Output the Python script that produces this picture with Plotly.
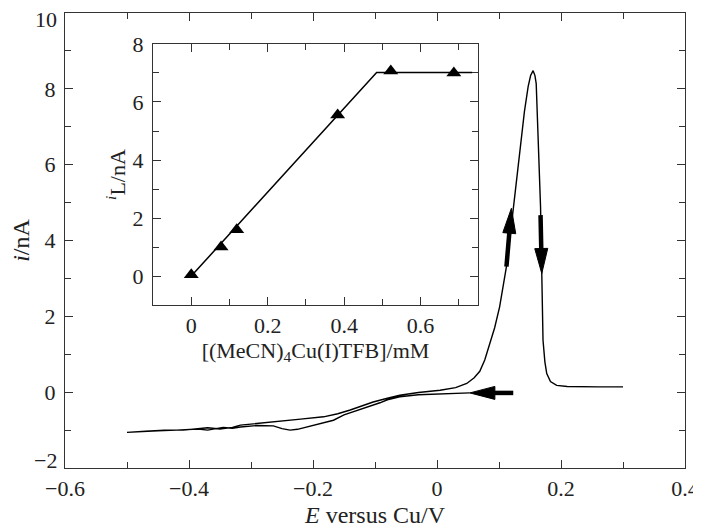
import plotly.graph_objects as go
import math

# ---------------- data ----------------
# Cyclic voltammogram (E / V vs Cu, i / nA)
# sweep 1: leftward from ~0.05 V
E_sweep1 = [0.053, 0.03, 0.0, -0.03, -0.06, -0.08, -0.092, -0.11, -0.129, -0.15, -0.167,
            -0.19, -0.21, -0.225, -0.237, -0.25, -0.264, -0.29, -0.317, -0.33, -0.345,
            -0.355, -0.37, -0.385, -0.40, -0.42, -0.45, -0.48, -0.50]
I_sweep1 = [-0.02, -0.03, -0.04, -0.07, -0.12, -0.20, -0.28, -0.38, -0.47, -0.60, -0.74,
            -0.84, -0.92, -0.98, -1.00, -0.96, -0.89, -0.88, -0.92, -0.95, -0.93,
            -0.96, -1.00, -0.97, -0.99, -1.00, -1.02, -1.04, -1.05]
# sweep 2: rightward from -0.5 V through the stripping peak
E_sweep2 = [-0.50, -0.47, -0.44, -0.41, -0.39, -0.37, -0.35, -0.33, -0.317, -0.29, -0.264,
            -0.22, -0.183, -0.16, -0.14, -0.12, -0.103, -0.08, -0.06, -0.03, 0.005, 0.03,
            0.048, 0.06, 0.069, 0.077, 0.085, 0.093, 0.101, 0.112, 0.12, 0.127, 0.131,
            0.136, 0.141, 0.147, 0.151, 0.155, 0.158, 0.160, 0.162, 0.164, 0.167, 0.169,
            0.171, 0.174, 0.177, 0.183, 0.193, 0.21, 0.23, 0.26, 0.30]
I_sweep2 = [-1.06, -1.03, -1.00, -1.00, -0.97, -0.94, -0.97, -0.93, -0.87, -0.83, -0.78,
            -0.71, -0.65, -0.57, -0.47, -0.36, -0.26, -0.16, -0.08, -0.01, 0.05, 0.12,
            0.23, 0.38, 0.55, 0.85, 1.25, 1.70, 2.25, 3.31, 4.40, 5.40, 6.12,
            6.85, 7.40, 8.06, 8.35, 8.48, 8.35, 8.14, 7.20, 6.12, 4.89, 3.13,
            1.37, 0.80, 0.49, 0.28, 0.18, 0.15, 0.14, 0.14, 0.14]

# Inset: limiting current vs concentration
conc = [0.0, 0.078, 0.119, 0.383, 0.522, 0.687]
iL = [0.05, 1.0, 1.6, 5.55, 7.07, 7.0]
fit_conc = [0.0, 0.485, 0.735]
fit_iL = [0.0, 7.02, 7.02]

# Tick values / labels
x_ticks = [-0.6, -0.4, -0.2, 0, 0.2, 0.4]
x_labels = ["\u22120.6", "\u22120.4", "\u22120.2", "0", "0.2", "0.4"]
y_ticks = [-2, 0, 2, 4, 6, 8, 10]
y_labels = ["", "0", "2", "4", "6", "8", ""]   # end labels placed separately
y_end_labels = [(-2, "\u22122", 8), (10, "10", -6)]   # (value, text, vertical shift px)

# Direction arrows (tail E, tail i, tip E, tip i)
arrows = [
    (0.112, 3.31, 0.120, 4.85),
    (0.167, 4.67, 0.169, 3.13),
    (0.123, -0.02, 0.053, -0.02),
]

# ---------------- figure ----------------
FONT = "Liberation Serif"
FS = 22
# page body has an 8px margin: figure occupies page x 8..701, y 8..532
W, H = 693, 524
ML, MR, MT, MB = 57, 16, 5, 64
X_RANGE = [-0.6, 0.4]
Y_RANGE = [-2, 10]
px_per_x = (W - ML - MR) / (X_RANGE[1] - X_RANGE[0])
px_per_y = (H - MT - MB) / (Y_RANGE[1] - Y_RANGE[0])

fig = go.Figure()
fig.add_trace(go.Scatter(x=E_sweep1 + E_sweep2, y=I_sweep1 + I_sweep2, mode="lines",
                         line=dict(color="black", width=1.4), showlegend=False))
fig.add_trace(go.Scatter(x=fit_conc, y=fit_iL, mode="lines", xaxis="x2", yaxis="y2",
                         line=dict(color="black", width=1.5), showlegend=False))
fig.add_trace(go.Scatter(x=conc, y=iL, mode="markers", xaxis="x2", yaxis="y2",
                         marker=dict(symbol="triangle-up", size=13, color="black"),
                         showlegend=False))

HEAD_L, HEAD_W, SHAFT_W = 25, 13, 4.5
for (x0, y0, x1, y1) in arrows:
    dxp = (x1 - x0) * px_per_x
    dyp = (y1 - y0) * px_per_y
    L = math.hypot(dxp, dyp)
    ux, uy = dxp / L, dyp / L
    nx, ny = -uy, ux
    bx, by = -HEAD_L * ux, -HEAD_L * uy
    p1 = (bx + HEAD_W / 2 * nx, by + HEAD_W / 2 * ny)
    p2 = (bx - HEAD_W / 2 * nx, by - HEAD_W / 2 * ny)
    sx = x1 + bx / px_per_x * 0.9
    sy = y1 + by / px_per_y * 0.9
    fig.add_shape(type="line", x0=x0, y0=y0, x1=sx, y1=sy, xref="x", yref="y",
                  line=dict(color="black", width=SHAFT_W))
    fig.add_shape(type="path", xref="x", yref="y", xsizemode="pixel", ysizemode="pixel",
                  xanchor=x1, yanchor=y1,
                  path=f"M0,0 L{p1[0]:.2f},{p1[1]:.2f} L{p2[0]:.2f},{p2[1]:.2f} Z",
                  fillcolor="black", line=dict(color="black", width=1))

axis_common = dict(showline=True, linecolor="#333", linewidth=1.3, mirror="allticks",
                   ticks="inside", ticklen=8, tickwidth=1.2, tickcolor="#333",
                   showgrid=False, zeroline=False, automargin=False,
                   ticklabeloverflow="allow",
                   tickfont=dict(family=FONT, size=FS, color="#222"))

annotations = [dict(text=txt, xref="paper", x=0, xanchor="right", xshift=-6,
                    yref="y", y=val, yanchor="middle", yshift=shift, showarrow=False,
                    font=dict(family=FONT, size=FS, color="#222"))
               for (val, txt, shift) in y_end_labels]

fig.update_layout(
    width=W, height=H,
    margin=dict(l=ML, r=MR, t=MT, b=MB),
    plot_bgcolor="white", paper_bgcolor="white",
    font=dict(family=FONT, size=FS, color="#222"),
    xaxis=dict(range=X_RANGE, tickvals=x_ticks, ticktext=x_labels, domain=[0, 1],
               ticklabelstandoff=0,
               minor=dict(ticks="inside", dtick=0.1, tick0=0, ticklen=6, tickcolor="#333"),
               title=dict(text="<i>E</i> versus Cu/V", standoff=6,
                          font=dict(family=FONT, size=24)),
               **axis_common),
    yaxis=dict(range=Y_RANGE, tickvals=y_ticks, ticktext=y_labels, domain=[0, 1],
               ticklabelstandoff=4,
               minor=dict(ticks="inside", dtick=1, tick0=0, ticklen=6, tickcolor="#333"),
               title=dict(text="<i>i</i>/nA", standoff=10,
                          font=dict(family=FONT, size=24)),
               **axis_common),
    xaxis2=dict(range=[-0.1, 0.75], dtick=0.2, tick0=0, domain=[0.142, 0.666],
                anchor="y2",
                minor=dict(ticks="inside", dtick=0.1, tick0=0, ticklen=6, tickcolor="#333"),
                title=dict(text="[(MeCN)<sub>4</sub>Cu(I)TFB]/mM", standoff=2,
                           font=dict(family=FONT, size=FS)),
                **axis_common),
    yaxis2=dict(range=[-1, 8], dtick=2, tick0=0, domain=[0.358, 0.932], anchor="x2",
                ticklabelstandoff=4,
                minor=dict(ticks="inside", dtick=1, tick0=0, ticklen=6, tickcolor="#333"),
                title=dict(text="<sup><i>i</i></sup>L/nA", standoff=0,
                           font=dict(family=FONT, size=FS)),
                **axis_common),
    annotations=annotations,
)

fig.write_html("out.html")
